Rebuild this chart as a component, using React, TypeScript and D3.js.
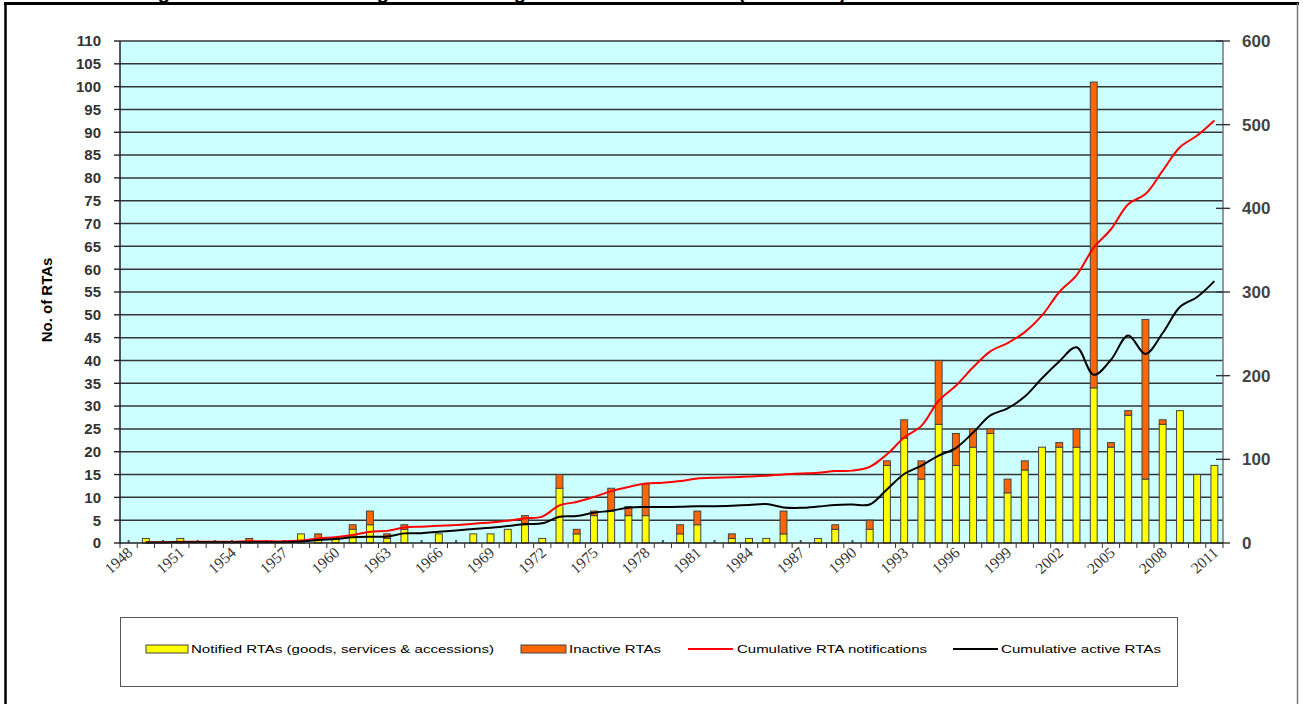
import React from 'react';
import * as d3 from 'd3';

const years = d3.range(1948, 2012);
const notified = [0,1,0,1,0,0,0,0,0,0,2,1,1,3,4,1,3,0,2,0,2,2,3,4,1,12,2,6,7,6,6,0,2,4,0,1,1,1,2,0,1,3,0,3,17,23,14,26,17,21,24,11,16,21,21,21,34,21,28,14,26,29,15,17];
const inactive = [0,0,0,0,0,0,0,1,0,0,0,1,0,1,3,1,1,0,0,0,0,0,0,2,0,3,1,1,5,2,7,0,2,3,0,1,0,0,5,0,0,1,0,2,1,4,4,14,7,4,1,3,2,0,1,4,67,1,1,35,1,0,0,0];
const lineYears = d3.range(1949, 2012);
const cumNotifications = [1,1,1.5,1.5,1.5,1.5,2,2,2,3,5.5,7,9.5,13.5,14.5,18.5,19.5,20.5,21.5,23,24.5,26.5,29.5,31.5,45,49,55,62,67,71,72,74,77,78,78.5,79.5,80.5,82,83,84,86,86.5,91,106,126,140,170,188,210,229,239,252,272,300,320,353,375,405,417,445,473,487,505];
const cumActive = [0.5,0.5,1,1,1,1,1,1,1,1.8,3.6,4.8,6.8,7.5,7.8,11.5,11.8,13.5,15,16.7,18.3,20.3,22.7,23.5,31.4,32.2,36.2,38.6,42.1,43,43,43.3,44,44,44.5,45.3,46.5,42.5,42,43.5,45.5,46,46,64,82.5,92.5,104.5,113.5,132,152.5,161,175,197,217,234,201,219,248,226,251,282,294,313];
const leftTicks = d3.range(0, 111, 5);
const rightTicks = [0, 100, 200, 300, 400, 500, 600];
const xLabels = [1948,1951,1954,1957,1960,1963,1966,1969,1972,1975,1978,1981,1984,1987,1990,1993,1996,1999,2002,2005,2008,2011];

export default function App() {
  const W = 1303, H = 704;
  const x0 = 120, x1 = 1223, yT = 41, yB = 543;
  const x = d3.scaleBand<string>().domain(years.map(String)).range([x0, x1]).paddingInner(0.6).paddingOuter(0.3);
  const step = x.step();
  const yL = d3.scaleLinear().domain([0, 110]).range([yB, yT]);
  const yR = d3.scaleLinear().domain([0, 600]).range([yB, yT]);
  const cx = (yr: number) => (x(String(yr)) as number) + x.bandwidth() / 2;
  const line = d3.line<number>().x((_, i) => cx(lineYears[i])).curve(d3.curveCatmullRom.alpha(0.5));
  const redPath = line.y((d) => yR(d))(cumNotifications) as string;
  const blackPath = line.y((d) => yR(d))(cumActive) as string;
  const sans = 'Arial, "Liberation Sans", sans-serif';

  return (
    <svg width={W} height={H} style={{ position: 'absolute', left: 0, top: 0, background: '#fff' }}>
      <text x={140} y={-1} fontFamily={sans} fontWeight="bold" fontSize={20}>Figure 1: Evolution of Regional Trade Agreements in the world (1948-2011)</text>
      <line x1={4} x2={1299} y1={3.5} y2={3.5} stroke="#000" strokeWidth={3} />
      <line x1={5.5} x2={5.5} y1={3} y2={H} stroke="#000" strokeWidth={2.5} />
      <line x1={1297.5} x2={1297.5} y1={3} y2={H} stroke="#777" strokeWidth={1.5} />

      <rect x={x0} y={yT} width={x1 - x0} height={yB - yT} fill="#ccffff" />
      {leftTicks.filter((t) => t > 0).map((t) => (
        <line key={'g' + t} x1={x0} x2={x1} y1={yL(t)} y2={yL(t)} stroke="#353535" strokeWidth={1.5} />
      ))}
      <line x1={x1} x2={x1} y1={yT} y2={yB} stroke="#777" strokeWidth={1.5} />

      {years.map((yr, i) => {
        const bx = x(String(yr)) as number;
        const bw = x.bandwidth();
        const n = notified[i], a = inactive[i];
        if (n + a === 0) {
          return <rect key={'z' + yr} x={bx + bw / 2 - 1} y={yB - 3} width={2} height={3} fill="#555" />;
        }
        return (
          <g key={'b' + yr}>
            {n > 0 && <rect x={bx} y={yL(n)} width={bw} height={yB - yL(n)} fill="#ffff00" stroke="#444" strokeWidth={1} />}
            {a > 0 && <rect x={bx} y={yL(n + a)} width={bw} height={yL(n) - yL(n + a)} fill="#ff6600" stroke="#444" strokeWidth={1} />}
          </g>
        );
      })}

      <path d={redPath} fill="none" stroke="#ff0000" strokeWidth={2} />
      <path d={blackPath} fill="none" stroke="#000" strokeWidth={2} />

      <line x1={x0} x2={x0} y1={yT} y2={yB + 1} stroke="#222" strokeWidth={1.5} />
      <line x1={x0} x2={x1} y1={yB} y2={yB} stroke="#222" strokeWidth={1.5} />
      {leftTicks.map((t) => (
        <g key={'l' + t}>
          <line x1={x0 - 6} x2={x0} y1={yL(t)} y2={yL(t)} stroke="#222" strokeWidth={1.4} />
          <text x={101} y={yL(t)} dy="0.36em" textAnchor="end" fontFamily={sans} fontWeight="bold" fontSize={15} fill="#333">{t}</text>
        </g>
      ))}
      {rightTicks.map((t) => (
        <g key={'r' + t}>
          <line x1={x1 - 7} x2={x1 + 7} y1={yR(t)} y2={yR(t)} stroke="#333" strokeWidth={1.4} />
          <text x={1242} y={yR(t)} dy="0.36em" textAnchor="start" fontFamily={sans} fontWeight="bold" fontSize={17} fill="#444">{t}</text>
        </g>
      ))}
      {d3.range(0, years.length + 1).map((i) => (
        <line key={'xt' + i} x1={x0 + i * step} x2={x0 + i * step} y1={yB} y2={yB + 5} stroke="#333" strokeWidth={1} />
      ))}
      {xLabels.map((yr) => (
        <text key={'xl' + yr} transform={`translate(${cx(yr) + 5},${yB + 11}) rotate(-42)`} textAnchor="end" fontFamily='"Times New Roman", "Liberation Serif", serif' fontSize={15.5} fill="#333">{yr}</text>
      ))}
      <text transform={`translate(52,${(yT + yB) / 2 + 8}) rotate(-90)`} textAnchor="middle" fontFamily={sans} fontWeight="bold" fontSize={15} fill="#000">No. of RTAs</text>

      <rect x={120.5} y={617.5} width={1057} height={69} fill="#fff" stroke="#555" strokeWidth={1} />
      <rect x={146} y={645} width={42} height={8} fill="#ffff00" stroke="#444" strokeWidth={1} />
      <text x={191} y={653} fontFamily={sans} fontSize={11.5} textLength={303} lengthAdjust="spacingAndGlyphs" fill="#000">Notified RTAs (goods, services &amp; accessions)</text>
      <rect x={521} y={645} width={45} height={8} fill="#ff6600" stroke="#444" strokeWidth={1} />
      <text x={569} y={653} fontFamily={sans} fontSize={11.5} textLength={92} lengthAdjust="spacingAndGlyphs" fill="#000">Inactive RTAs</text>
      <line x1={688} x2={733} y1={649} y2={649} stroke="#ff0000" strokeWidth={2} />
      <text x={737} y={653} fontFamily={sans} fontSize={11.5} textLength={190} lengthAdjust="spacingAndGlyphs" fill="#000">Cumulative RTA notifications</text>
      <line x1={953} x2={998} y1={649} y2={649} stroke="#000" strokeWidth={2} />
      <text x={1001} y={653} fontFamily={sans} fontSize={11.5} textLength={160} lengthAdjust="spacingAndGlyphs" fill="#000">Cumulative active RTAs</text>
    </svg>
  );
}
